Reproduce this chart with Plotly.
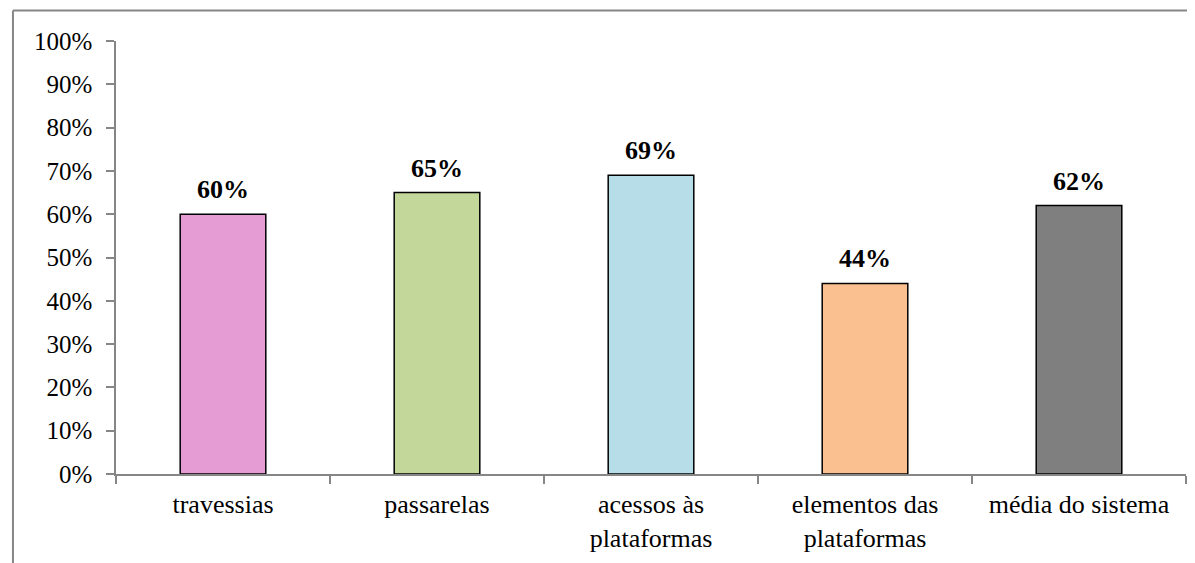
import plotly.graph_objects as go

categories = ["travessias", "passarelas", "acessos às<br>plataformas", "elementos das<br>plataformas", "média do sistema"]
values = [0.60, 0.65, 0.69, 0.44, 0.62]
labels = ["60%", "65%", "69%", "44%", "62%"]
colors = ["#E59BD4", "#C4D79B", "#B7DEE8", "#FAC090", "#7F7F7F"]
y_ticks = [0, 0.1, 0.2, 0.3, 0.4, 0.5, 0.6, 0.7, 0.8, 0.9, 1.0]
y_tick_labels = ["0%", "10%", "20%", "30%", "40%", "50%", "60%", "70%", "80%", "90%", "100%"]

font_family = "Liberation Serif, Times New Roman, serif"

fig = go.Figure(go.Bar(
    x=categories,
    y=values,
    width=0.4,
    marker=dict(color=colors, line=dict(color="#000000", width=1.5)),
    hoverinfo="skip",
))

annotations = [
    dict(x=c, y=v, text=t, xref="x", yref="y", showarrow=False,
         yanchor="bottom", yshift=8,
         font=dict(family=font_family, size=26, color="#000000", weight="bold"))
    for c, v, t in zip(categories, values, labels)
]

fig.update_layout(
    width=1187, height=555,
    margin=dict(l=108, r=9, t=33, b=89),
    paper_bgcolor="white", plot_bgcolor="white",
    showlegend=False,
    font=dict(family=font_family, size=24, color="#000000"),
    annotations=annotations,
    xaxis=dict(
        showline=True, linecolor="#868686", linewidth=1.5,
        ticks="outside", tickson="boundaries", ticklen=8, tickcolor="#868686", tickwidth=1.5,
        tickfont=dict(family=font_family, size=26, color="#000000"),
        ticklabelstandoff=6,
        showgrid=False,
    ),
    yaxis=dict(
        range=[0, 1.0], tickvals=y_ticks, ticktext=y_tick_labels,
        showline=True, linecolor="#868686", linewidth=1.5,
        ticks="outside", ticklen=8, tickcolor="#868686", tickwidth=1.5,
        tickfont=dict(family=font_family, size=25, color="#000000"),
        ticklabelstandoff=9,
        showgrid=False, zeroline=False,
    ),
    shapes=[
        dict(type="line", xref="paper", yref="paper",
             x0=-0.0963, x1=1.02, y0=1.0704, y1=1.0704,
             line=dict(color="#868686", width=2)),
        dict(type="line", xref="paper", yref="paper",
             x0=-0.0963, x1=-0.0963, y0=1.0704, y1=-0.25,
             line=dict(color="#868686", width=2)),
    ],
)

fig.write_html("out.html")
